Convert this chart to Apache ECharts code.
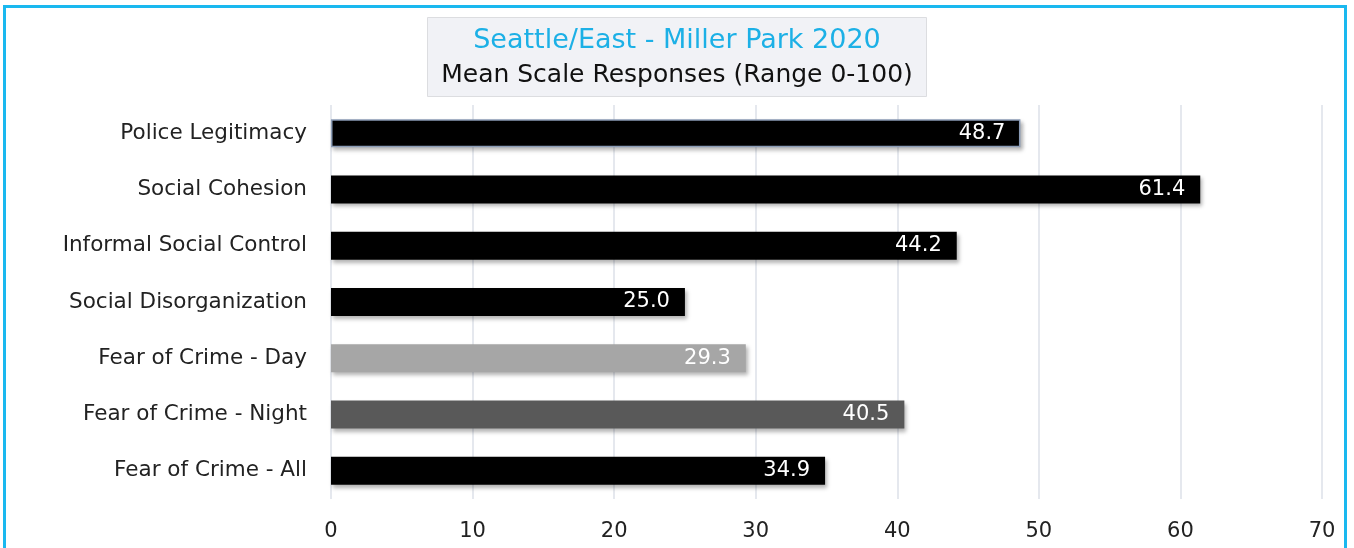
<!DOCTYPE html>
<html>
<head>
<meta charset="utf-8">
<script src="https://cdn.jsdelivr.net/npm/echarts@6/dist/echarts.min.js"></script>
<style>
  html, body { margin: 0; padding: 0; background: #fff; }
  #frame {
    position: absolute; left: 3px; top: 5px; width: 1344px; height: 560px;
    border: 3px solid #1ab8ef; box-sizing: border-box;
  }
  #chart { position: absolute; left: 0; top: 0; width: 1354px; height: 548px; }
</style>
</head>
<body>
<div id="frame"></div>
<div id="chart"></div>
<script>
// categories listed top to bottom
const categories = [
  'Police Legitimacy',
  'Social Cohesion',
  'Informal Social Control',
  'Social Disorganization',
  'Fear of Crime - Day',
  'Fear of Crime - Night',
  'Fear of Crime - All'
]
const values = [48.7, 61.4, 44.2, 25.0, 29.3, 40.5, 34.9]
const barColors = ['#000000', '#000000', '#000000', '#000000', '#a6a6a6', '#595959', '#000000']
const xTicks = [0, 10, 20, 30, 40, 50, 60, 70]

const font = '"DejaVu Sans", sans-serif'

const chart = echarts.init(document.getElementById('chart'))

const option = {
  backgroundColor: 'transparent',
  animation: false,
  title: {
    text: 'Seattle/East - Miller Park 2020',
    subtext: 'Mean Scale Responses (Range 0-100)',
    left: 'center',
    top: 17,
    itemGap: 9,
    padding: [10, 14, 9, 14],
    backgroundColor: '#f1f2f6',
    borderColor: '#dcdde0',
    borderWidth: 1,
    textStyle: {
      color: '#1cb0e6',
      fontSize: 27,
      fontWeight: 'normal',
      fontFamily: font
    },
    subtextStyle: {
      color: '#111111',
      fontSize: 25,
      fontFamily: font
    }
  },
  grid: {
    left: 331,
    right: 32,
    top: 105,
    bottom: 49
  },
  xAxis: {
    type: 'value',
    min: xTicks[0],
    max: xTicks[xTicks.length - 1],
    interval: 10,
    axisLine: { show: false },
    axisTick: { show: false },
    axisLabel: {
      color: '#222222',
      fontSize: 21,
      fontFamily: font,
      margin: 22
    },
    splitLine: {
      lineStyle: { color: '#dde0e8', width: 1.5 }
    }
  },
  yAxis: {
    type: 'category',
    inverse: true,
    data: categories,
    axisLine: { show: false },
    axisTick: { show: false },
    axisLabel: {
      color: '#222222',
      fontSize: 21.5,
      fontFamily: font,
      margin: 24
    }
  },
  series: [
    {
      type: 'bar',
      barWidth: 28,
      data: values.map((v, i) => ({
        value: v,
        itemStyle: {
          color: barColors[i],
          borderColor: i === 0 ? '#8a9bb5' : barColors[i],
          borderWidth: i === 0 ? 1.5 : 0,
          shadowColor: 'rgba(0,0,0,0.3)',
          shadowBlur: 4,
          shadowOffsetX: 2,
          shadowOffsetY: 3
        }
      })),
      label: {
        show: true,
        position: 'insideRight',
        distance: 15,
        color: '#ffffff',
        fontSize: 21,
        fontFamily: font,
        formatter: p => p.value.toFixed(1)
      }
    }
  ]
}

chart.setOption(option)
window.addEventListener('resize', () => chart.resize())
</script>
</body>
</html>
